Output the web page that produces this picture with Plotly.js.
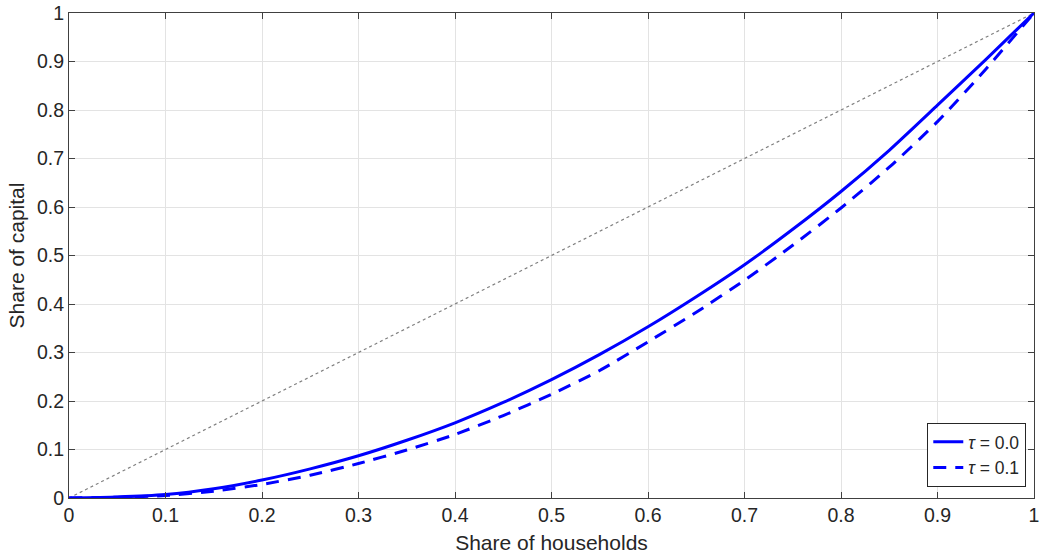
<!DOCTYPE html>
<html>
<head>
<meta charset="utf-8">
<script src="https://cdn.plot.ly/plotly-3.0.1.min.js"></script>
<style>html,body{margin:0;padding:0;background:#fff}#chart{width:1043px;height:560px}</style>
</head>
<body>
<div id="chart"></div>
<script>
const households = [0,0.05,0.1,0.15,0.2,0.25,0.3,0.35,0.4,0.45,0.5,0.55,0.6,0.65,0.7,0.75,0.8,0.85,0.9,0.95,1];
const capitalTau00 = [0,0.002,0.007,0.019,0.037,0.060,0.087,0.119,0.155,0.197,0.244,0.296,0.353,0.415,0.481,0.554,0.632,0.717,0.810,0.904,1.0];
const capitalTau01 = [0,0.0015,0.005,0.014,0.028,0.047,0.071,0.099,0.131,0.170,0.214,0.263,0.322,0.383,0.449,0.521,0.598,0.682,0.776,0.884,1.0];
const equality = [0,1];
const tickVals = [0,0.1,0.2,0.3,0.4,0.5,0.6,0.7,0.8,0.9,1];
const tickText = ['0','0.1','0.2','0.3','0.4','0.5','0.6','0.7','0.8','0.9','1'];
const seriesNames = ['<i>τ</i> = 0.0','<i>τ</i> = 0.1'];

const FONT = 'Liberation Sans, Arial, Helvetica, sans-serif';

const traces = [
  {x: equality, y: equality, mode:'lines', line:{color:'#808080', width:1.2, dash:'dot'}, showlegend:false, hoverinfo:'skip'},
  {x: households, y: capitalTau00, mode:'lines', name: seriesNames[0], line:{color:'#0000ff', width:3, shape:'spline', smoothing:0.6}},
  {x: households, y: capitalTau01, mode:'lines', name: seriesNames[1], line:{color:'#0000ff', width:3, dash:'13px,9px', shape:'spline', smoothing:0.6}}
];

function axis(titleText, standoff) {
  return {
    range:[0,1], tickvals: tickVals, ticktext: tickText,
    showgrid:true, gridcolor:'#e3e3e3', gridwidth:1,
    showline:true, linecolor:'#404040', linewidth:1, mirror:'ticks',
    ticks:'inside', ticklen:6, tickcolor:'#404040', tickwidth:1,
    zeroline:false,
    tickfont:{family:FONT, size:19.5, color:'#262626'},
    title:{text:titleText, font:{family:FONT, size:21, color:'#262626'}, standoff:standoff}
  };
}

const layout = {
  width:1043, height:560,
  margin:{l:69, r:9, t:13, b:62},
  paper_bgcolor:'#ffffff', plot_bgcolor:'#ffffff',
  xaxis: axis('Share of households', 9),
  yaxis: axis('Share of capital', 6),
  legend:{
    x:0.992, xanchor:'right', y:0.023, yanchor:'bottom',
    bgcolor:'#ffffff', bordercolor:'#262626', borderwidth:1,
    font:{family:FONT, size:17.5, color:'#262626'},
    tracegroupgap:0
  },
  showlegend:true
};

Plotly.newPlot('chart', traces, layout, {staticPlot:true});
</script>
</body>
</html>
